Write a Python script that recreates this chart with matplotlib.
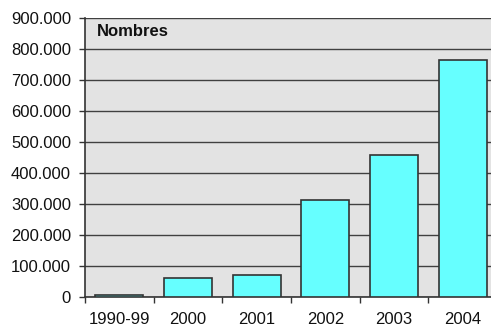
import matplotlib.pyplot as plt
import numpy as np
from matplotlib.ticker import FuncFormatter, MultipleLocator

plt.rcParams['font.family'] = ['Liberation Sans', 'DejaVu Sans']

# datos
periodos = ["1990-99", "2000", "2001", "2002", "2003", "2004"]
nombres = [8000, 60000, 72000, 313000, 459000, 764000]

fig = plt.figure(figsize=(4.91, 3.29), dpi=100)
# el area del grafico se sale un poco por la derecha, como en el original
ax = fig.add_axes([85 / 491, 1 - 297 / 329, 412 / 491, 279 / 329])
ax.set_facecolor("#e3e3e3")

x = np.arange(len(periodos))
ax.bar(x, nombres, width=0.7, color="#66ffff", edgecolor="#333333",
       linewidth=1.2, zorder=3)

ax.set_xlim(-0.5, len(periodos) - 0.5)
ax.set_ylim(0, 900000)
ax.yaxis.set_major_locator(MultipleLocator(100000))
ax.yaxis.set_major_formatter(FuncFormatter(lambda v, p: f"{int(v):,}".replace(",", ".")))
ax.grid(axis="y", color="#404040", linewidth=1, zorder=1)

ax.set_xticks(x)
ax.set_xticklabels(periodos)
ax.set_xticks(np.arange(len(periodos)) - 0.5, minor=True)
ax.tick_params(axis="x", which="major", length=0, pad=11, labelsize=12, colors="#111111")
ax.tick_params(axis="x", which="minor", length=4, width=1, color="#333333")
ax.tick_params(axis="y", length=4, width=1, color="#333333", labelsize=12,
               labelcolor="#111111", pad=6)

for s in ["top", "right"]:
    ax.spines[s].set_visible(False)
ax.spines["left"].set_color("#333333")
ax.spines["bottom"].set_color("#333333")
ax.spines["left"].set_linewidth(1.2)
ax.spines["bottom"].set_linewidth(1.2)

ax.text(0.029, 0.95, "Nombres", transform=ax.transAxes, fontsize=12,
        fontweight="bold", va="center", ha="left", color="#111111")

fig.savefig("out.png", dpi=100)
